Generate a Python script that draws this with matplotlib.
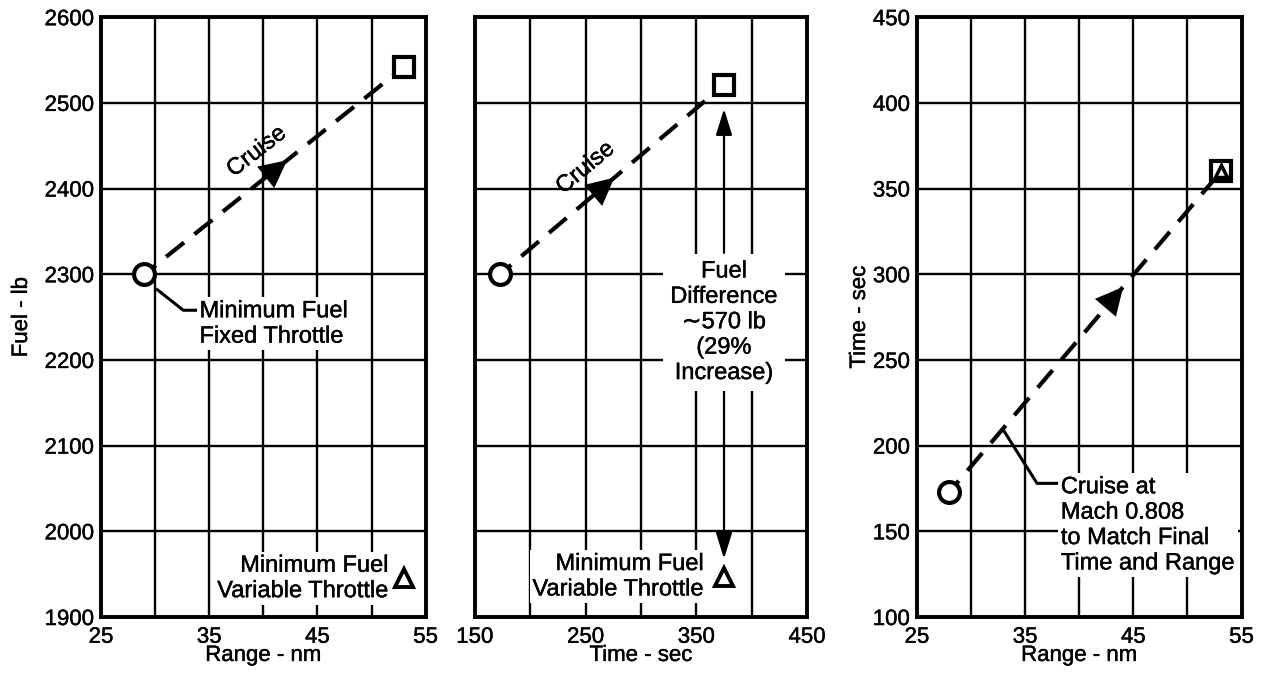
import matplotlib.pyplot as plt
import matplotlib.patheffects as pe
from matplotlib.ticker import FixedLocator

plt.rcParams['font.family'] = ['Liberation Sans', 'DejaVu Sans']

# fuel vs range: min-fuel fixed throttle start, cruise end, variable-throttle optimum
range_fixed = [29, 53]
fuel_fixed = [2300, 2542]
range_var, fuel_var = 53, 1945

# fuel vs time
time_fixed = [172.7, 375]
fuel_fixed_t = [2300, 2521]
time_var, fuel_var_t = 375, 1947

# time vs range
range_fixed3 = [28, 53.1]
time_fixed3 = [173, 360]
range_var3, time_var3 = 53.1, 360

range_major = [25, 35, 45, 55]
range_minor = [30, 40, 50]
time_major = [150, 250, 350, 450]
time_minor = [200, 300, 400]
fuel_ticks = [1900, 2000, 2100, 2200, 2300, 2400, 2500, 2600]
time_ticks = [100, 150, 200, 250, 300, 350, 400, 450]

TICK_FS = 16
FS = 17
LABEL_FS = 16
HEAVY = [pe.withStroke(linewidth=0.3, foreground='black')]
WHITE = dict(facecolor='white', edgecolor='none', pad=2)

fig = plt.figure(figsize=(12.63, 6.77), dpi=100)
ax1 = fig.add_axes([0.080, 0.0886, 0.257, 0.886])
ax2 = fig.add_axes([0.376, 0.0886, 0.263, 0.886])
ax3 = fig.add_axes([0.726, 0.0886, 0.257, 0.886])


def style(ax, xmaj, xmin, yt):
    ax.set_axisbelow(True)
    ax.xaxis.set_major_locator(FixedLocator(xmaj))
    ax.xaxis.set_minor_locator(FixedLocator(xmin))
    ax.yaxis.set_major_locator(FixedLocator(yt))
    ax.set_xlim(xmaj[0], xmaj[-1])
    ax.set_ylim(yt[0], yt[-1])
    ax.grid(True, which='both', color='black', lw=1.7)
    ax.tick_params(which='both', length=0, labelsize=TICK_FS)
    ax.tick_params(axis='x', pad=7)
    ax.tick_params(axis='y', pad=5)
    for lab in ax.get_xticklabels() + ax.get_yticklabels():
        lab.set_path_effects(HEAVY)
    for s in ax.spines.values():
        s.set_linewidth(2.8)
        s.set_zorder(5)


def note(ax, x, y, s, **kw):
    kw.setdefault('fontsize', FS)
    kw.setdefault('linespacing', 1.2)
    return ax.text(x, y, s, path_effects=HEAVY, **kw)


def cruise_path(ax, xs, ys, tip_frac, back_frac):
    ax.plot(xs, ys, color='black', lw=3, linestyle=(2, (5.5, 3.2)), zorder=3)
    tip = (xs[0] + tip_frac * (xs[1] - xs[0]), ys[0] + tip_frac * (ys[1] - ys[0]))
    back = (xs[0] + back_frac * (xs[1] - xs[0]), ys[0] + back_frac * (ys[1] - ys[0]))
    ax.annotate('', xy=tip, xytext=back,
                arrowprops=dict(arrowstyle='-|>,head_length=0.9,head_width=0.45',
                                mutation_scale=22, color='black', lw=0,
                                shrinkA=0, shrinkB=0), zorder=4)
    ax.plot(xs[0], ys[0], marker='o', ms=15, mfc='white', mec='black', mew=3, zorder=6)
    ax.plot(xs[1], ys[1], marker='s', ms=14, mfc='white', mec='black', mew=3, zorder=6)


# panel 1
style(ax1, range_major, range_minor, fuel_ticks)
cruise_path(ax1, range_fixed, fuel_fixed, 0.55, 0.45)
ax1.plot(range_var, fuel_var, marker='^', ms=13, mfc='white', mec='black', mew=2.8, zorder=6)
note(ax1, 39.4, 2443, 'Cruise', rotation=38, ha='center', va='center')
ax1.plot([30.2, 32.6, 33.8], [2282, 2258, 2258], color='black', lw=2.2, zorder=3)
note(ax1, 34.1, 2242, 'Minimum Fuel\nFixed Throttle', ha='left', va='center',
     bbox=WHITE, zorder=4)
note(ax1, 51.6, 1945, 'Minimum Fuel\nVariable Throttle', ha='right', va='center',
     multialignment='right', bbox=WHITE, zorder=4)
ax1.set_xlabel('Range - nm', fontsize=LABEL_FS, labelpad=-2, path_effects=HEAVY)
ax1.set_ylabel('Fuel - lb', fontsize=LABEL_FS, labelpad=9, path_effects=HEAVY)

# panel 2
style(ax2, time_major, time_minor, fuel_ticks)
ax2.tick_params(axis='y', labelleft=False)
cruise_path(ax2, time_fixed, fuel_fixed_t, 0.51, 0.41)
ax2.plot(time_var, fuel_var_t, marker='^', ms=13, mfc='white', mec='black', mew=2.8, zorder=6)
note(ax2, 250, 2424, 'Cruise', rotation=40, ha='center', va='center')
ax2.annotate('', xy=(time_var, 2493), xytext=(time_var, 2325),
             arrowprops=dict(arrowstyle='-|>,head_length=0.8,head_width=0.25',
                             mutation_scale=20, color='black', lw=1.6,
                             shrinkA=0, shrinkB=0), zorder=4)
ax2.annotate('', xy=(time_var, 1968), xytext=(time_var, 2165),
             arrowprops=dict(arrowstyle='-|>,head_length=0.8,head_width=0.25',
                             mutation_scale=20, color='black', lw=1.6,
                             shrinkA=0, shrinkB=0), zorder=4)
note(ax2, time_var, 2244, 'Fuel\nDifference\n\u223c570 lb\n(29%\nIncrease)',
     ha='center', va='center',
     bbox=dict(facecolor='white', edgecolor='none', pad=5), zorder=4)
note(ax2, 357, 1947, 'Minimum Fuel\nVariable Throttle', ha='right', va='center',
     multialignment='right', bbox=WHITE, zorder=4)
ax2.set_xlabel('Time - sec', fontsize=LABEL_FS, labelpad=-2, path_effects=HEAVY)

# panel 3
style(ax3, range_major, range_minor, time_ticks)
cruise_path(ax3, range_fixed3, time_fixed3, 0.64, 0.54)
ax3.plot(range_var3, time_var3, marker='^', ms=8, mfc='white', mec='black', mew=2.5, zorder=7)
ax3.plot([33.1, 36.1, 38.0], [208, 178, 178], color='black', lw=2.2, zorder=3)
note(ax3, 38.3, 153.5, 'Cruise at\nMach 0.808\nto Match Final\nTime and Range',
     ha='left', va='center', bbox=WHITE, zorder=4)
ax3.set_xlabel('Range - nm', fontsize=LABEL_FS, labelpad=-2, path_effects=HEAVY)
ax3.set_ylabel('Time - sec', fontsize=LABEL_FS, labelpad=2, path_effects=HEAVY)

fig.savefig('out.png', dpi=100)
